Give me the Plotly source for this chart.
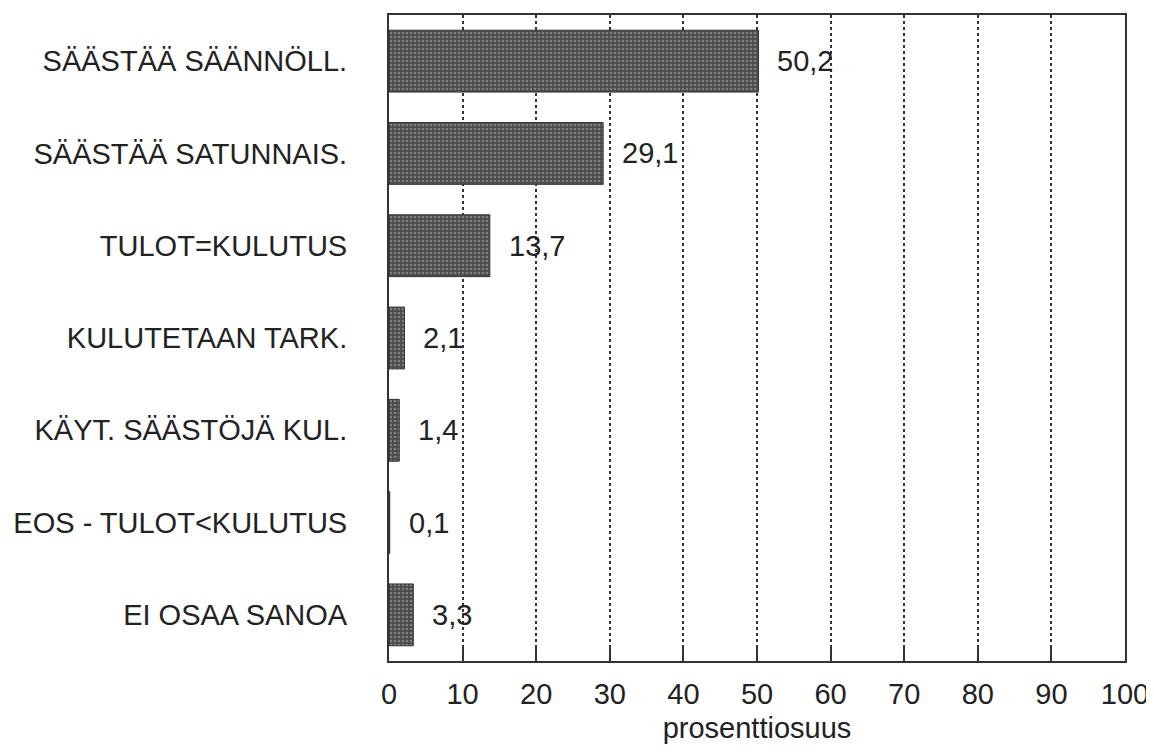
import plotly.graph_objects as go

categories = ["SÄÄSTÄÄ SÄÄNNÖLL.", "SÄÄSTÄÄ SATUNNAIS.", "TULOT=KULUTUS",
              "KULUTETAAN TARK.", "KÄYT. SÄÄSTÖJÄ KUL.", "EOS - TULOT<KULUTUS",
              "EI OSAA SANOA"]
values = [50.2, 29.1, 13.7, 2.1, 1.4, 0.1, 3.3]
value_labels = ["50,2", "29,1", "13,7", "2,1", "1,4", "0,1", "3,3"]
x_ticks = [0, 10, 20, 30, 40, 50, 60, 70, 80, 90, 100]
x_title = "prosenttiosuus"

FONT = "Liberation Sans, Arial, sans-serif"
TXT = "#222222"
FS = 29

fig = go.Figure()
fig.add_trace(go.Bar(
    x=values, y=categories, orientation="h", width=0.67,
    marker=dict(
        color="#555555",
        line=dict(color="#333333", width=1),
        pattern=dict(shape=".", bgcolor="#4a4a4a", fgcolor="#b5b5b5",
                     size=4, solidity=0.35),
    ),
    hoverinfo="skip",
))

for v, c, t in zip(values, categories, value_labels):
    fig.add_annotation(x=v, y=c, text=t, showarrow=False, xanchor="left",
                       yanchor="middle", xshift=17,
                       font=dict(family=FONT, size=FS, color=TXT))

fig.update_layout(
    width=1146, height=736,
    margin=dict(l=379, r=29, t=5, b=80),
    paper_bgcolor="white", plot_bgcolor="white",
    showlegend=False,
    font=dict(family=FONT, size=FS, color=TXT),
)
fig.update_xaxes(
    range=[0, 100], tickvals=x_ticks, ticktext=[str(t) for t in x_ticks],
    ticks="inside", ticklen=14, tickwidth=1.5, tickcolor="#333",
    showline=True, linecolor="#333", linewidth=2, mirror=True,
    showgrid=True, gridcolor="#333", gridwidth=1.5, griddash="dot",
    zeroline=False, ticklabelstandoff=6, ticklabeloverflow="allow",
    tickfont=dict(family=FONT, size=FS, color=TXT),
    title=dict(text=x_title, font=dict(family=FONT, size=FS, color=TXT), standoff=9),
)
fig.update_yaxes(
    autorange="reversed",
    showline=True, linecolor="#333", linewidth=2, mirror=True,
    showgrid=False, ticks="", ticklabelstandoff=34,
    tickfont=dict(family=FONT, size=FS, color=TXT),
)

fig.write_html("out.html")
